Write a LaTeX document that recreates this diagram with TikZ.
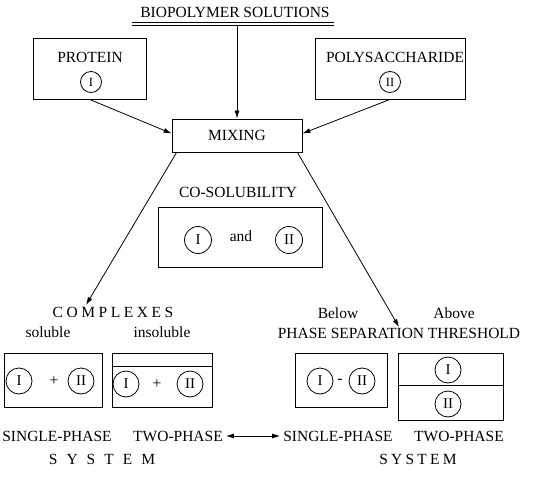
\documentclass[tikz,border=0pt]{standalone}
\usepackage{fontspec}
\setmainfont{Liberation Serif}
\usetikzlibrary{arrows.meta}

\tikzset{
  lbl/.style={inner sep=1pt,font=\fontsize{15.5}{17}\selectfont},
  spaced/.style={inner sep=1pt,font=\fontsize{15.5}{17}\selectfont\addfontfeature{LetterSpace=#1}},
  box/.style 2 args={draw,line width=0.8pt,minimum width=#1,minimum height=#2,inner sep=0pt},
  rn/.style={draw,circle,line width=0.8pt,minimum size=#1,inner sep=0pt,font=\fontsize{15}{17}\selectfont},
  rn/.default=26pt,
  arr/.style={line width=0.8pt,-{Latex[length=8pt,width=5pt]}},
  both/.style={line width=0.8pt,{Latex[length=8pt,width=5pt]}-{Latex[length=8pt,width=5pt]}}
}

\begin{document}
\begin{tikzpicture}[x=1pt,y=-1pt]
\useasboundingbox (0,0) rectangle (537,481);

% source
\node[lbl] (bio) at (235,12) {BIOPOLYMER SOLUTIONS};
\draw[line width=0.8pt] (132,22.5) -- (334,22.5);
\draw[line width=0.8pt] (132,25) -- (334,25);
\coordinate (src) at (237,25);

% the two biopolymers
\node[box={113pt}{61pt}] (prot) at (89.5,68.5) {};
\node[lbl] (protlbl) at (90,57) {PROTEIN};
\node[rn=21pt,font=\fontsize{12.5}{14}\selectfont] (p1) at (91,82) {I};

\node[box={150pt}{61pt}] (poly) at (390,68.5) {};
\node[lbl] (polylbl) at (395,57) {POLYSACCHARIDE};
\node[rn=21pt,font=\fontsize{12.5}{14}\selectfont] (p2) at (390,82) {II};

% mixing
\node[box={130pt}{33pt}] (mix) at (237,135.5) {};
\node[lbl] at (mix) {MIXING};

\draw[arr] (src) -- (mix.north);
\draw[arr] (prot.south) -- ([yshift=2pt]mix.west);
\draw[arr] (poly.south) -- ([yshift=2pt]mix.east);

% co-solubility
\node[lbl] (cosol) at (238,192) {CO-SOLUBILITY};
\node[box={164pt}{60pt}] (cobox) at (240,237) {};
\node[rn=27pt] (c1) at (198,240) {I};
\node[lbl] (and) at (241,236) {and};
\node[rn=27pt] (c2) at (289,240) {II};

% branches
\coordinate (ltip) at (86,305);
\coordinate (rtip) at (399,327);
\draw[arr] ([xshift=5pt]mix.south west) -- (ltip);
\draw[arr] ([xshift=-5pt]mix.south east) -- (rtip);

% complexes
\node[spaced=23] (cpx) at (113,312) {COMPLEXES};
\node[lbl] (sol) at (48,332) {soluble};
\node[lbl] (insol) at (162,332) {insoluble};

\node[box={98pt}{54pt}] (solbox) at (53,380) {};
\node[rn] (s1) at (19,381) {I};
\node[lbl] (splus) at (54,381) {+};
\node[rn] (s2) at (81,381) {II};

\node[box={100pt}{54pt}] (insbox) at (162,380) {};
\draw[line width=0.8pt] ([yshift=-14pt]insbox.north west) -- ([yshift=-14pt]insbox.north east);
\node[rn] (i1) at (126,384) {I};
\node[lbl] (iplus) at (157,384) {+};
\node[rn] (i2) at (190,384) {II};

% phase separation
\node[lbl] (below) at (338,313) {Below};
\node[lbl] (above) at (454,313) {Above};
\node[lbl] (thr) at (399,333) {PHASE SEPARATION THRESHOLD};

\node[box={92pt}{54pt}] (spbox) at (341,380) {};
\node[rn] (b1) at (320,381) {I};
\node[lbl] (bminus) at (340,381) {-};
\node[rn] (b2) at (362,381) {II};

\node[box={105pt}{67pt}] (tpbox) at (450.5,386.5) {};
\draw[line width=0.8pt] ([yshift=-33pt]tpbox.north west) -- ([yshift=-33pt]tpbox.north east);
\node[rn] (a1) at (448,370) {I};
\node[rn] (a2) at (448,404) {II};

% systems
\node[lbl] (spl) at (57,436) {SINGLE-PHASE};
\node[lbl] (tpl) at (178,436) {TWO-PHASE};
\node[spaced=58] (sysl) at (102,459) {SYSTEM};
\node[lbl] (spr) at (338,436) {SINGLE-PHASE};
\node[lbl] (tpr) at (459,436) {TWO-PHASE};
\node[spaced=21] (sysr) at (418,459) {SYSTEM};

\draw[both] ([xshift=2pt]tpl.east) -- ([xshift=-2pt]spr.west);
\end{tikzpicture}
\end{document}
